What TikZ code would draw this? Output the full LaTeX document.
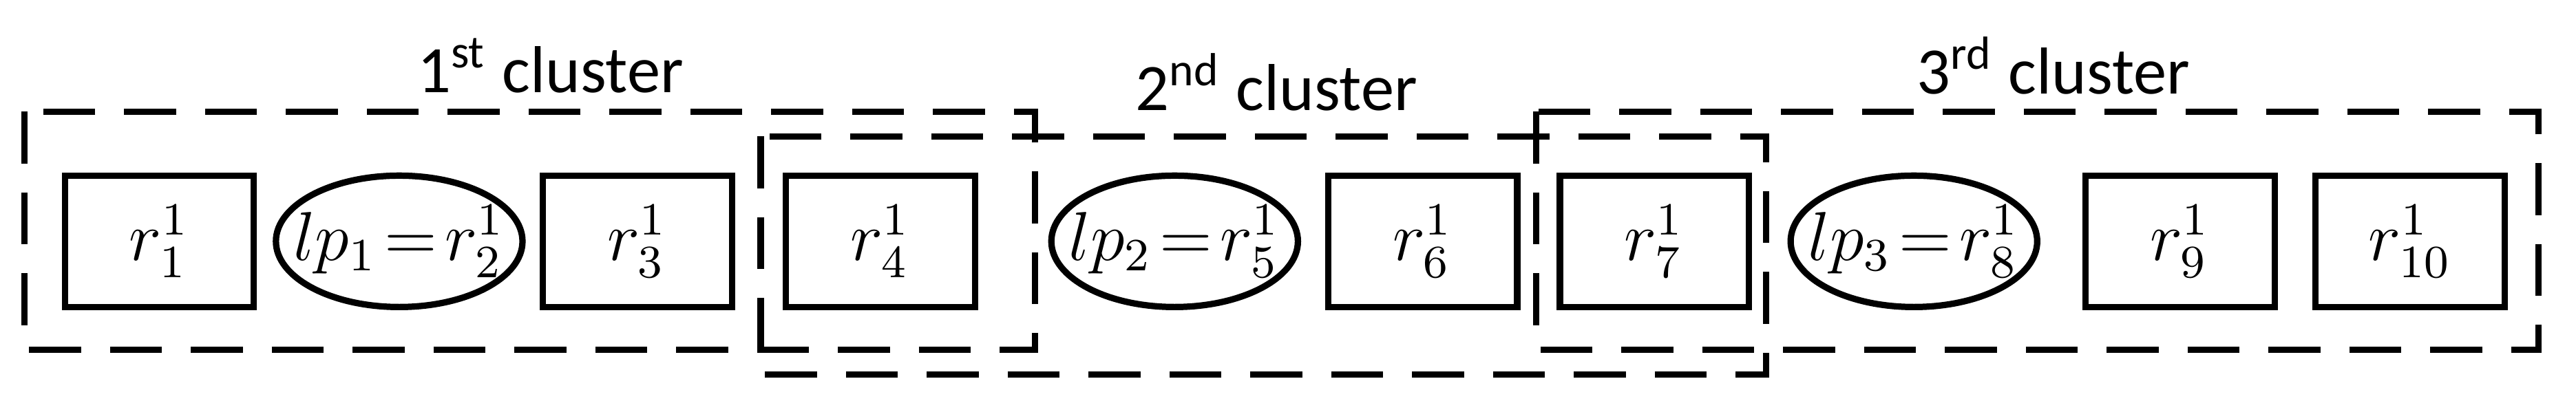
\documentclass[tikz,border=0pt]{standalone}
\usepackage{fontspec}
\setmainfont{Carlito}
\usetikzlibrary{shapes.geometric}
\begin{document}
\begin{tikzpicture}[x=0.01cm, y=-0.01cm, line width=1.1pt,
    elem/.style={rectangle, draw=black, minimum width=1.15cm, minimum height=0.8cm, font=\fontsize{12}{14}\selectfont},
    lp/.style={ellipse, draw=black, minimum width=1.5cm, minimum height=0.8cm, inner xsep=-0.33cm, inner ysep=0pt, font=\fontsize{12}{14}\selectfont},
    clust/.style={draw=black, dashed, dash pattern=on 9pt off 5pt},
    lab/.style={font=\fontsize{11.5}{14}\selectfont}]
    \useasboundingbox (0,0) rectangle (1568,244);

    \draw[clust] (15,68) rectangle (630,213);
    \draw[clust] (463,83) rectangle (1075,228);
    \draw[clust] (935,68) rectangle (1545,213);

    \node[lab] (c1) at (335,40) {1\textsuperscript{st} cluster};
    \node[lab] (c2) at (777,50) {2\textsuperscript{nd} cluster};
    \node[lab] (c3) at (1250,40) {3\textsuperscript{rd} cluster};

    \node[elem] (r1) at (97,147) {$r_1^1$};
    \node[lp] (lp1) at (243,147) {$lp_1\!=\!r_2^1$};
    \node[elem] (r3) at (388,147) {$r_3^1$};
    \node[elem] (r4) at (536,147) {$r_4^1$};
    \node[lp] (lp2) at (715,147) {$lp_2\!=\!r_5^1$};
    \node[elem] (r6) at (866,147) {$r_6^1$};
    \node[elem] (r7) at (1007,147) {$r_7^1$};
    \node[lp] (lp3) at (1165,147) {$lp_3\!=\!r_8^1$};
    \node[elem] (r9) at (1327,147) {$r_9^1$};
    \node[elem] (r10) at (1467,147) {$r_{10}^1$};
\end{tikzpicture}
\end{document}
